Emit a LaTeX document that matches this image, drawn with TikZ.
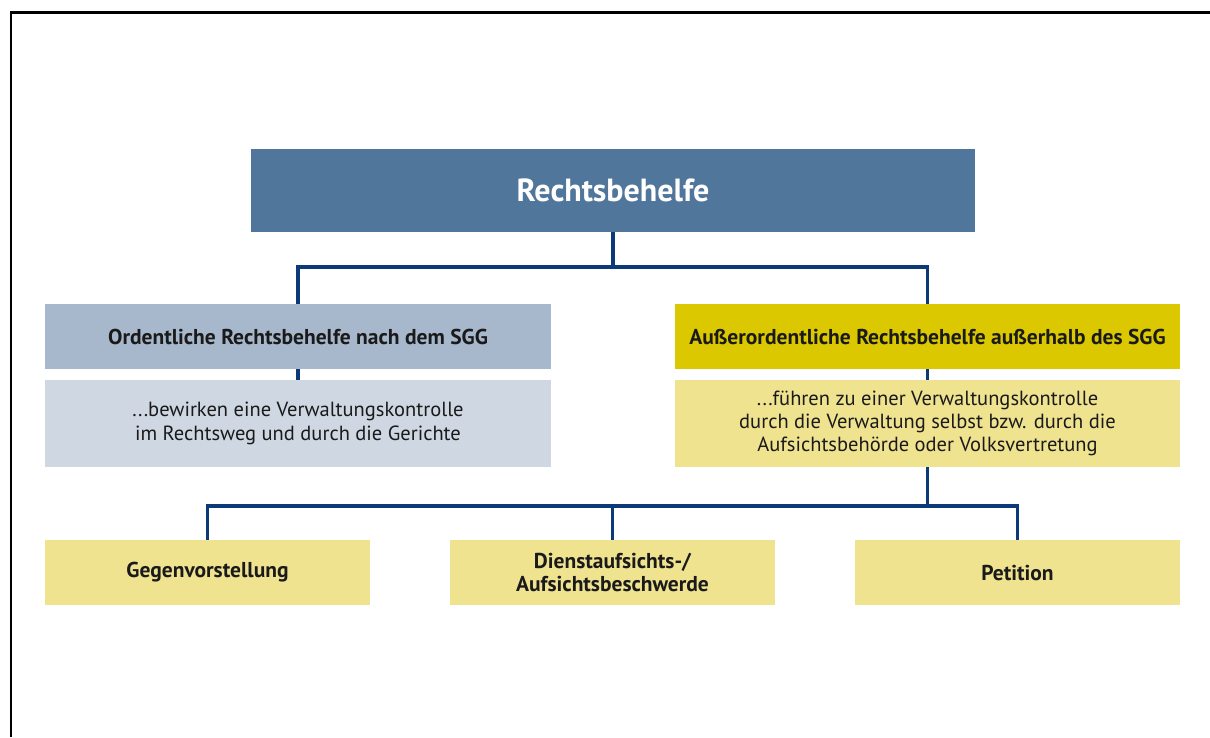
\documentclass[tikz,border=0pt]{standalone}
\usepackage{fontspec}
\setmainfont{PT Sans}
\definecolor{topblue}{HTML}{50779B}
\definecolor{hdblue}{HTML}{A7B7CC}
\definecolor{dsblue}{HTML}{CED7E2}
\definecolor{hdyel}{HTML}{DBC800}
\definecolor{dsyel}{HTML}{EFE390}
\definecolor{conncol}{HTML}{0C3A78}
\definecolor{txt}{HTML}{1A1A1A}
\tikzset{
  box/.style={rectangle, inner sep=0pt, align=center, text=txt, font=\fontsize{20.5}{24}\selectfont},
  hdbox/.style={box, minimum width=506pt, minimum height=65pt, font=\bfseries\fontsize{21.5}{24}\selectfont},
  dsbox/.style={box, minimum width=506pt, minimum height=87pt},
  leafbox/.style={box, fill=dsyel, minimum width=325pt, minimum height=65pt, font=\bfseries\fontsize{21.5}{23}\selectfont},
  conn/.style={draw=conncol, line width=3.5pt}
}
\begin{document}
\begin{tikzpicture}[x=1pt,y=-1pt]
\useasboundingbox (0,0) rectangle (1210,737);
\fill[white] (0,0) rectangle (1210,737);
\draw[line width=2.5pt, black] (11,737) -- (11,12.5) -- (1210,12.5);

\node[box, fill=topblue, text=white, minimum width=724pt, minimum height=83pt, font=\bfseries\fontsize{32}{34}\selectfont] (top) at (613,190.5) {Rechtsbehelfe};

\node[hdbox, fill=hdblue] (lh) at (298,336.5) {Ordentliche Rechtsbehelfe nach dem SGG};
\node[dsbox, fill=dsblue] (ld) at (298,423.5) {...bewirken eine Verwaltungskontrolle\\im Rechtsweg und durch die Gerichte};

\node[hdbox, fill=hdyel, minimum width=505pt] (rh) at (927.5,336.5) {Außerordentliche Rechtsbehelfe außerhalb des SGG};
\node[dsbox, fill=dsyel, minimum width=505pt, font=\fontsize{20.5}{23}\selectfont] (rd) at (927.5,423.5) {...führen zu einer Verwaltungskontrolle\\durch die Verwaltung selbst bzw. durch die\\Aufsichtsbehörde oder Volksvertretung};

\node[leafbox] (b1) at (207.5,572.5) {Gegenvorstellung};
\node[leafbox] (b2) at (612.5,572.5) {Dienstaufsichts-/\\Aufsichtsbeschwerde};
\node[leafbox] (b3) at (1017.5,572.5) {Petition};

\coordinate (j1) at (613,267);
\coordinate (j2) at (927.5,506);

\draw[conn] (top.south) -- (j1);
\draw[conn] (j1) -| (lh.north);
\draw[conn] (j1) -| (rh.north);
\draw[conn] (lh.south) -- (ld.north);
\draw[conn] (rh.south) -- (rd.north);
\draw[conn] (rd.south) -- (j2);
\draw[conn] (j2) -| (b1.north);
\draw[conn] (j2) -| (b2.north);
\draw[conn] (j2) -| (b3.north);
\end{tikzpicture}
\end{document}
